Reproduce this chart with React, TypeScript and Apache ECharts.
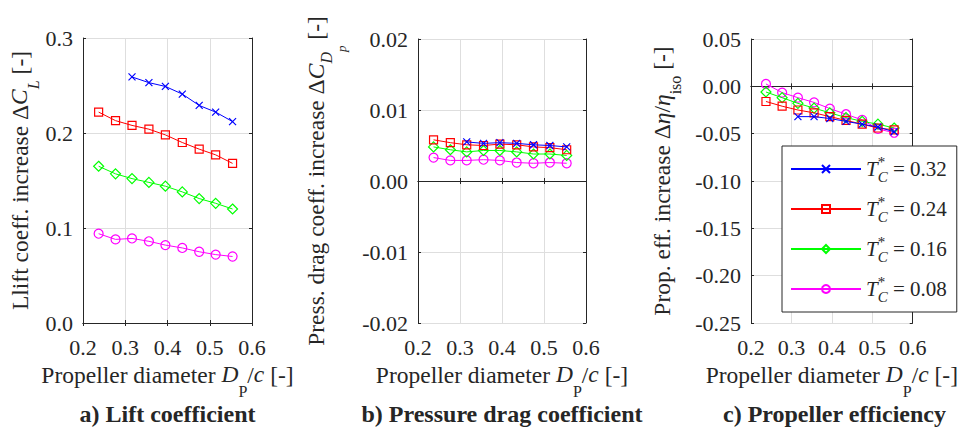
import React, { useEffect, useRef } from 'react';
import * as echarts from 'echarts';

const FONT = 'Liberation Serif';
const INK = '#262626';
const GRIDC = '#dedede';

// x positions (propeller diameter D_P/c)
const xDiam = [0.237, 0.277, 0.316, 0.356, 0.395, 0.435, 0.475, 0.514, 0.554];
const xDiamHigh = xDiam.slice(2); // T*C = 0.32 starts at 0.316

const seriesNames = ['0.32', '0.24', '0.16', '0.08'];
const colors = ['#0000ff', '#ff0000', '#00ff00', '#ff00ff'];

// a) Lift coefficient increase
const liftT032 = [0.259, 0.253, 0.249, 0.241, 0.229, 0.222, 0.212];
const liftT024 = [0.222, 0.213, 0.208, 0.204, 0.198, 0.190, 0.183, 0.177, 0.168];
const liftT016 = [0.165, 0.157, 0.152, 0.148, 0.144, 0.138, 0.131, 0.126, 0.120];
const liftT008 = [0.094, 0.088, 0.089, 0.086, 0.082, 0.079, 0.075, 0.072, 0.070];

// b) Pressure drag coefficient increase
const dragT032 = [0.0055, 0.0053, 0.0054, 0.0053, 0.0051, 0.0050, 0.0048];
const dragT024 = [0.0058, 0.0054, 0.0051, 0.0050, 0.0052, 0.0051, 0.0048, 0.0047, 0.0044];
const dragT016 = [0.0048, 0.0044, 0.0041, 0.0043, 0.0043, 0.0041, 0.0038, 0.0038, 0.0036];
const dragT008 = [0.0033, 0.0029, 0.0029, 0.0030, 0.0029, 0.0026, 0.0025, 0.0026, 0.0025];

// c) Propeller efficiency increase
const effT032 = [-0.032, -0.032, -0.034, -0.037, -0.040, -0.043, -0.048];
const effT024 = [-0.016, -0.021, -0.025, -0.028, -0.032, -0.036, -0.040, -0.044, -0.046];
const effT016 = [-0.006, -0.012, -0.018, -0.023, -0.028, -0.033, -0.037, -0.040, -0.044];
const effT008 = [0.0025, -0.0066, -0.012, -0.017, -0.0235, -0.0295, -0.0355, -0.045, -0.049];

const xTicks = { min: 0.2, max: 0.6, interval: 0.1 };

const symbols = [
  'path://M0,0L10,10M10,0L0,10',
  'rect',
  'diamond',
  'circle',
];
const symbolSizes = [7, 8, 10, 9];

const grids = [
  { left: 83, top: 38, width: 169, height: 285 },
  { left: 418, top: 39, width: 168, height: 284 },
  { left: 751, top: 39, width: 167, height: 284 },
];

const NAME_FS = 23.5;
const mainTok = { fontFamily: FONT, fontSize: NAME_FS, lineHeight: 24, verticalAlign: 'top', color: INK };
const italTok = { ...mainTok, fontStyle: 'italic' };

function xName() {
  return {
    name: '{m|Propeller diameter }{i|D}{sub|P}{m|/}{i|c}{m| [-]}',
    nameLocation: 'middle',
    nameGap: 27,
    nameTextStyle: {
      fontFamily: FONT,
      fontSize: NAME_FS,
      color: INK,
      rich: {
        m: mainTok,
        i: italTok,
        sub: { fontFamily: FONT, fontSize: 16, lineHeight: 37, verticalAlign: 'bottom', color: INK },
      },
    },
  };
}

function buildXAxes(g: number) {
  return [
    {
      type: 'value',
      gridIndex: g,
      position: 'bottom',
      ...xTicks,
      ...xName(),
      axisLine: { show: true, lineStyle: { color: INK, width: 1 } },
      axisTick: { show: true, inside: true, length: 3, lineStyle: { color: INK } },
      axisLabel: {
        margin: 13,
        fontFamily: FONT,
        fontSize: 22,
        color: INK,
        formatter: (v: number) => v.toFixed(1),
      },
      splitLine: { show: true, lineStyle: { color: GRIDC, width: 1 } },
    },
    {
      type: 'value',
      gridIndex: g,
      position: 'top',
      ...xTicks,
      axisLine: { show: true, lineStyle: { color: INK, width: 1 } },
      axisTick: { show: true, inside: true, length: 3, lineStyle: { color: INK } },
      axisLabel: { show: false },
      splitLine: { show: false },
    },
  ];
}

function buildYAxes(g: number, min: number, max: number, interval: number, digits: number, name: any) {
  return [
    {
      type: 'value',
      gridIndex: g,
      position: 'left',
      min,
      max,
      interval,
      ...name,
      nameLocation: 'middle',
      axisLine: { show: true, lineStyle: { color: INK, width: 1 } },
      axisTick: { show: true, inside: true, length: 3, lineStyle: { color: INK } },
      axisLabel: {
        margin: 10,
        fontFamily: FONT,
        fontSize: 22,
        color: INK,
        formatter: (v: number) => v.toFixed(digits),
      },
      splitLine: { show: true, lineStyle: { color: GRIDC, width: 1 } },
    },
    {
      type: 'value',
      gridIndex: g,
      position: 'right',
      min,
      max,
      interval,
      axisLine: { show: true, lineStyle: { color: INK, width: 1 } },
      axisTick: { show: true, inside: true, length: 3, lineStyle: { color: INK } },
      axisLabel: { show: false },
      splitLine: { show: false },
    },
  ];
}

const yNameA = {
  name: '{m|Llift coeff. increase Δ}{i|C}{sub|L}{m| [-]}',
  nameGap: 36,
  nameTextStyle: {
    fontFamily: FONT,
    fontSize: NAME_FS,
    color: INK,
    rich: {
      m: mainTok,
      i: italTok,
      sub: { fontFamily: FONT, fontSize: 16, fontStyle: 'italic', lineHeight: 34, verticalAlign: 'bottom', color: INK },
    },
  },
};

const yNameB = {
  name: '{m|Press. drag coeff. increase Δ}{i|C}{sub|D}{subsub|p}{m| [-]}',
  nameGap: 70,
  nameTextStyle: {
    fontFamily: FONT,
    fontSize: NAME_FS,
    color: INK,
    rich: {
      m: mainTok,
      i: italTok,
      sub: { fontFamily: FONT, fontSize: 16, fontStyle: 'italic', lineHeight: 30, verticalAlign: 'middle', color: INK },
      subsub: { fontFamily: FONT, fontSize: 13, fontStyle: 'italic', lineHeight: 44, verticalAlign: 'bottom', color: INK },
    },
  },
};

const yNameC = {
  name: '{m|Prop. eff. increase Δ}{i|η}{m|/}{i|η}{sub|iso}{m| [-]}',
  nameGap: 68,
  nameTextStyle: {
    fontFamily: FONT,
    fontSize: NAME_FS,
    color: INK,
    rich: {
      m: mainTok,
      i: italTok,
      sub: { fontFamily: FONT, fontSize: 16, lineHeight: 33, verticalAlign: 'bottom', color: INK },
    },
  },
};

function pairs(xs: number[], ys: number[]) {
  return xs.map((x, i) => [x, ys[i]]);
}

function makeSeries(g: number, sets: number[][]) {
  return sets.map((ys, k) => ({
    type: 'line',
    name: seriesNames[k],
    xAxisIndex: g * 2,
    yAxisIndex: g * 2,
    data: pairs(k === 0 ? xDiamHigh : xDiam, ys),
    symbol: symbols[k],
    symbolSize: symbolSizes[k],
    showSymbol: true,
    lineStyle: { color: colors[k], width: 1 },
    itemStyle: { color: 'transparent', borderColor: colors[k], borderWidth: 1.2 },
    emphasis: { disabled: true },
    z: 10 - k,
  }));
}

const titles = ['a) Lift coefficient', 'b) Pressure drag coefficient', 'c) Propeller efficiency'];

export default function App() {
  const ref = useRef<HTMLDivElement>(null);
  useEffect(() => {
    if (!ref.current) return;
    const chart = echarts.init(ref.current, undefined, { renderer: 'svg' });
    const option: any = {
      animation: false,
      backgroundColor: '#ffffff',
      grid: grids.map((g) => ({ ...g, containLabel: false })),
      xAxis: [...buildXAxes(0), ...buildXAxes(1), ...buildXAxes(2)],
      yAxis: [
        ...buildYAxes(0, 0, 0.3, 0.1, 1, yNameA),
        ...buildYAxes(1, -0.02, 0.02, 0.01, 2, yNameB),
        ...buildYAxes(2, -0.25, 0.05, 0.05, 2, yNameC),
      ],
      title: titles.map((t, i) => ({
        text: t,
        left: grids[i].left + grids[i].width / 2,
        top: 414,
        textAlign: 'center',
        textVerticalAlign: 'middle',
        padding: 0,
        textStyle: { fontFamily: FONT, fontSize: 24, fontWeight: 'bold', color: INK },
      })),
      legend: {
        data: seriesNames,
        orient: 'vertical',
        left: 782,
        top: 146,
        itemWidth: 70,
        itemHeight: 10,
        itemGap: 10,
        padding: [8, 10, 8, 8],
        borderColor: INK,
        borderWidth: 1,
        backgroundColor: '#ffffff',
        selectedMode: false,
        formatter: (n: string) => `{t|T}{s|*}{c|C}{e| = ${n}}`,
        textStyle: {
          fontFamily: FONT,
          fontSize: 21,
          color: INK,
          rich: {
            t: { fontFamily: FONT, fontSize: 21, fontStyle: 'italic', lineHeight: 30, verticalAlign: 'middle', color: INK },
            s: { fontFamily: FONT, fontSize: 15, lineHeight: 14, width: 0, verticalAlign: 'top', color: INK },
            c: { fontFamily: FONT, fontSize: 15, fontStyle: 'italic', lineHeight: 14, verticalAlign: 'bottom', color: INK },
            e: { fontFamily: FONT, fontSize: 21, lineHeight: 30, verticalAlign: 'middle', color: INK },
          },
        },
      },
      series: [
        ...makeSeries(0, [liftT032, liftT024, liftT016, liftT008]),
        ...makeSeries(1, [dragT032, dragT024, dragT016, dragT008]),
        ...makeSeries(2, [effT032, effT024, effT016, effT008]),
      ],
    };
    chart.setOption(option);
    return () => chart.dispose();
  }, []);
  return (
    <div
      ref={ref}
      style={{ position: 'fixed', left: 0, top: 0, width: 961, height: 427, background: '#fff' }}
    />
  );
}
